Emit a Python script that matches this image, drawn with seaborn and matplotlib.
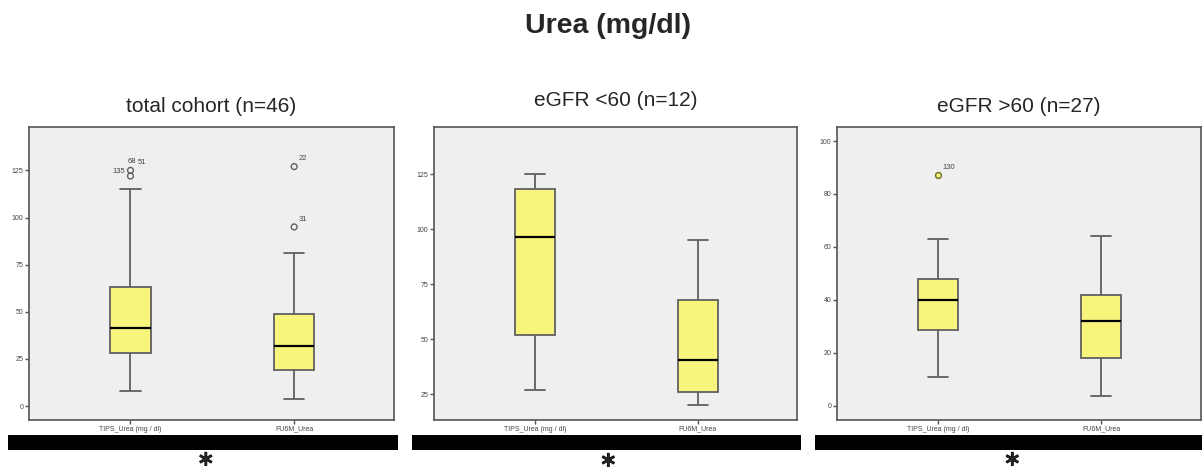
import numpy as np
import pandas as pd
import seaborn as sns
import matplotlib
matplotlib.use("Agg")
import matplotlib.pyplot as plt
from matplotlib.patches import Rectangle
import matplotlib.patheffects as pe

sns.set_style("white")
plt.rcParams['font.family'] = ['Liberation Sans', 'DejaVu Sans']
plt.rcParams['mathtext.fontset'] = 'dejavusans'

# ---- data ----
categories = ["TIPS_Urea (mg / dl)", "FU6M_Urea"]
panel_titles = ["total cohort (n=46)", "eGFR <60 (n=12)", "eGFR >60 (n=27)"]

# five-number summaries per box: [lower whisker, Q1, median, Q3, upper whisker]
total_tips = [8, 28, 41.5, 63, 115]
total_fu6m = [3.5, 19, 32, 49, 81]
low_tips = [27, 52, 96.5, 118.5, 125]
low_fu6m = [20, 26, 40.5, 68, 95]
high_tips = [11, 28.5, 40, 48, 63]
high_fu6m = [3.5, 18, 32, 42, 64]

# outliers: (category, value, label)
total_out_cat = ["TIPS_Urea (mg / dl)", "TIPS_Urea (mg / dl)", "FU6M_Urea", "FU6M_Urea"]
total_out_val = [125, 122, 127, 95]
total_out_lab = ["135", "", "22", "31"]
low_out_cat, low_out_val, low_out_lab = [], [], []
high_out_cat = ["TIPS_Urea (mg / dl)"]
high_out_val = [87]
high_out_lab = ["130"]

y_ticks = [[0, 25, 50, 75, 100, 125], [25, 50, 75, 100, 125], [0, 20, 40, 60, 80, 100]]
y_lims = [(-7.4, 148), (13.3, 146.5), (-5.4, 105.3)]

panels = [
    (total_tips, total_fu6m, total_out_cat, total_out_val, total_out_lab),
    (low_tips, low_fu6m, low_out_cat, low_out_val, low_out_lab),
    (high_tips, high_fu6m, high_out_cat, high_out_val, high_out_lab),
]

W, H = 1202, 470
fig = plt.figure(figsize=(W / 100, H / 100), dpi=100)

ax_lefts = [29, 434, 837]
ax_widths = [365, 363, 364]
bars = [(8, 398), (412, 801), (815, 1202)]
title_y = [107, 101, 107]
star_pos = [(205.5, 460), (608, 461), (1012, 460)]

box_fill = "#f8f57c"
edge = "#606060"

for i, (tips, fu, oc, ov, ol) in enumerate(panels):
    ax = fig.add_axes([ax_lefts[i] / W, (H - 420) / H, ax_widths[i] / W, 293 / H])
    df = pd.DataFrame({
        "var": [categories[0]] * len(tips) + [categories[1]] * len(fu),
        "value": tips + fu,
    })
    sns.boxplot(data=df, x="var", y="value", order=categories, ax=ax,
                whis=(0, 100), width=0.245, color=box_fill, saturation=1,
                linewidth=1.3, linecolor=edge,
                medianprops=dict(color="black", linewidth=1.6),
                whiskerprops=dict(color=edge, linewidth=1.3),
                capprops=dict(color=edge, linewidth=1.3),
                boxprops=dict(edgecolor=edge, linewidth=1.3),
                showfliers=False)
    if ov:
        odf = pd.DataFrame({"var": oc, "value": ov})
        n_before = len(ax.collections)
        sns.stripplot(data=odf, x="var", y="value", order=categories, ax=ax,
                      jitter=False, size=4.2, color=edge, linewidth=1)
        for coll in ax.collections[n_before:]:
            if i == 2:
                coll.set_facecolor(box_fill)
                coll.set_edgecolor("#6a6a2a")
            else:
                coll.set_facecolor("none")
                coll.set_edgecolor(edge)
            coll.set_linewidth(1.0)
        for c, v, lab in zip(oc, ov, ol):
            if not lab:
                continue
            xi = categories.index(c)
            if i == 0 and lab == "135":
                ax.annotate(lab, (xi, v), xytext=(-4, -1), textcoords="offset points",
                            ha="right", va="center", fontsize=5.5, color="#444")
                ax.annotate("68", (xi, v), xytext=(-2, 4), textcoords="offset points",
                            ha="left", va="bottom", fontsize=5.5, color="#444")
                ax.annotate("51", (xi, v), xytext=(5.5, 3), textcoords="offset points",
                            ha="left", va="bottom", fontsize=5.5, color="#444")
            else:
                ax.annotate(lab, (xi, v), xytext=(3, 3), textcoords="offset points",
                            ha="left", va="bottom", fontsize=5.5, color="#444")
    ax.set_xlim(-0.62, 1.61)
    ax.set_ylim(*y_lims[i])
    ax.set_yticks(y_ticks[i])
    ax.set_xlabel("")
    ax.set_ylabel("")
    ax.set_facecolor("#efefef")
    for s in ax.spines.values():
        s.set_color("#555555")
        s.set_linewidth(1.2)
    ax.tick_params(axis="both", which="both", direction="out", length=3, width=1,
                   color="#555555", labelsize=5, labelcolor="#444444", pad=1,
                   left=True, bottom=True)
    ax.grid(False)
    fig.text((ax_lefts[i] + ax_widths[i] / 2) / W, 1 - title_y[i] / H, panel_titles[i],
             ha="center", va="center", fontsize=15)
    x0, x1 = bars[i]
    fig.patches.append(Rectangle((x0 / W, (H - 450) / H), (x1 - x0) / W, 15 / H,
                                 transform=fig.transFigure, facecolor="black",
                                 edgecolor="none", zorder=3))
    sx, sy = star_pos[i]
    fig.text(sx / W, 1 - sy / H, r"$\ast$", ha="center", va="center", fontsize=15,
             path_effects=[pe.withStroke(linewidth=0.8, foreground="black")])

fig.text(608 / W, 1 - 26 / H, "Urea (mg/dl)", ha="center", va="center",
         fontsize=20.5, fontweight="bold")

fig.savefig("out.png", dpi=100)
